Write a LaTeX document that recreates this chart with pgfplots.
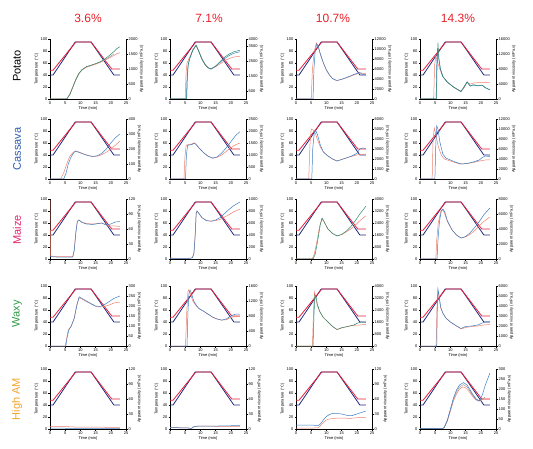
\documentclass[border=0pt]{standalone}
\usepackage{fontspec}
\setmainfont{Liberation Sans}
\usepackage{pgfplots}
\usepackage{pgfplotstable}
\pgfplotsset{compat=1.18}

\definecolor{tempblue}{HTML}{1F2A80}
\definecolor{tempred}{HTML}{E8203A}
\definecolor{vblue}{HTML}{3B7FC4}
\definecolor{vgreen}{HTML}{2E8B6E}
\definecolor{vsalmon}{HTML}{F0806E}
\definecolor{vgray}{HTML}{8C8C8C}
\definecolor{titlered}{HTML}{E8202A}
\definecolor{cassava}{HTML}{2B5BA8}
\definecolor{maize}{HTML}{E2236B}
\definecolor{waxy}{HTML}{2F9A47}
\definecolor{higham}{HTML}{F4A42C}

\newcommand{\tf}{\fontsize{4}{4.5}\selectfont}

\pgfplotsset{
  base/.style={scale only axis, width=76pt, height=60pt, anchor=south west,
    xmin=0, xmax=25, ymin=0,
    tick align=outside, major tick length=1.5pt,
    tick style={black, line width=0.3pt},
    axis line style={black, line width=0.4pt, -},
    ticklabel style={font=\tf, inner sep=1pt},
    label style={font=\tf, inner sep=1pt},
    /pgf/number format/.cd, assume math mode=true, 1000 sep={}},
  temp/.style={base, ymax=100, axis x line*=bottom, axis y line*=left,
    xtick={0,5,...,25}, ytick={0,20,...,100},
    xlabel={Time (min)}, ylabel={Temperature (°C)}},
  visc/.style={base, axis x line=none, axis y line*=right,
    scaled y ticks=false, ylabel={Apparent viscosity (mPa.s)}},
  tb/.style={color=tempblue, line width=0.8pt},
  tr/.style={color=tempred, line width=0.8pt},
  vb/.style={color=vblue, line width=0.5pt},
  vg/.style={color=vgreen, line width=0.5pt},
  vs/.style={color=vsalmon, line width=0.5pt},
  vy/.style={color=vgray, line width=0.4pt},
}

% temperature programmes, same in every panel
\pgfplotstableread{
t T
0 40
1 40
8.3 95
13.5 95
21 40
23 40
}\tblue
\pgfplotstableread{
t T
0 48
1 48
8.5 95
13.5 95
20.3 50
23 50
}\tred

\newcommand{\tpanel}[2]{%
  \begin{axis}[temp, at={(#1,#2)}]
    \addplot[tb] table {\tblue};
    \addplot[tr] table {\tred};
  \end{axis}}

% column left edges and row bottoms
\def\ca{50pt}\def\cb{170pt}\def\cc{296pt}\def\cd{420pt}
\def\ra{-99pt}\def\rb{-179pt}\def\rc{-259pt}\def\rd{-346pt}\def\re{-429pt}

\begin{document}
\begin{tikzpicture}
\useasboundingbox (0,0) rectangle (533pt,-449pt);

\node[font=\fontsize{12}{14}\selectfont, text=titlered] at (88pt,-18pt) {3.6\%};
\node[font=\fontsize{12}{14}\selectfont, text=titlered] at (209pt,-18pt) {7.1\%};
\node[font=\fontsize{12}{14}\selectfont, text=titlered] at (333pt,-18pt) {10.7\%};
\node[font=\fontsize{12}{14}\selectfont, text=titlered] at (458pt,-18pt) {14.3\%};

\node[font=\fontsize{11}{13}\selectfont, rotate=90] at (17pt,-66pt) {Potato};
\node[font=\fontsize{11}{13}\selectfont, rotate=90, text=cassava] at (17pt,-149pt) {Cassava};
\node[font=\fontsize{11}{13}\selectfont, rotate=90, text=maize] at (17pt,-230pt) {Maize};
\node[font=\fontsize{11}{13}\selectfont, rotate=90, text=waxy] at (17pt,-314pt) {Waxy};
\node[font=\fontsize{11}{13}\selectfont, rotate=90, text=higham] at (17pt,-399pt) {High AM};

%% ---------------- Potato ----------------
\tpanel{\ca}{\ra}
\begin{axis}[visc, at={(\ca,\ra)}, ymax=2000, ytick={0,500,...,2000}]
\addplot[vy] coordinates {(0,0)(5.5,0)(6.5,160)(7.5,410)(8.5,660)(9.5,860)(10.5,970)(12,1070)(13.5,1120)(15,1170)(16.5,1230)(18,1310)(19.5,1400)(21,1500)};
\addplot[vs] coordinates {(0,0)(5.5,0)(6.5,150)(7.5,400)(8.5,650)(9.5,850)(10.5,960)(12,1060)(13.5,1110)(15,1160)(16.5,1220)(18,1290)(19.5,1370)(21,1450)(22,1510)(23,1540)};
\addplot[vg] coordinates {(0,0)(5.5,0)(6.5,140)(7.5,390)(8.5,640)(9.5,840)(10.5,980)(12,1080)(13.5,1130)(15,1180)(16.5,1240)(18,1330)(19.5,1450)(21,1580)(22,1680)(23,1740)};
\end{axis}

\tpanel{\cb}{\ra}
\begin{axis}[visc, at={(\cb,\ra)}, ymax=4000, ytick={500,1500,2500,3500,4000}]
\addplot[vs] coordinates {(0,0)(5,0)(5.3,1800)(5.6,2400)(6.5,2800)(7.5,3300)(8.6,3580)(9.5,3200)(10.5,2700)(11.5,2350)(12.5,2100)(13.5,2000)(15,2150)(16.5,2350)(18,2550)(19.5,2700)(21,2800)(23,2850)};
\addplot[vb] coordinates {(0,0)(5.4,0)(5.6,1300)(5.9,2200)(6.5,2700)(7.5,3250)(8.6,3580)(9.5,3150)(10.5,2650)(11.5,2300)(12.5,2080)(13.5,2000)(15,2180)(16.5,2450)(18,2700)(19.5,2900)(21,3050)(23,3150)};
\addplot[vg] coordinates {(0,0)(5.5,0)(5.7,1400)(6,2300)(6.5,2700)(7.5,3250)(8.6,3580)(9.5,3150)(10.5,2650)(11.5,2300)(12.5,2080)(13.5,2000)(15,2200)(16.5,2500)(18,2800)(19.5,3000)(21,3150)(23,3250)};
\end{axis}

\tpanel{\cc}{\ra}
\begin{axis}[visc, at={(\cc,\ra)}, ymax=12000, ytick={0,2000,...,12000}]
\addplot[vs] coordinates {(0,0)(5,0)(5.4,6000)(6,9500)(6.7,11200)(7.3,10500)(8,9000)(9,7200)(10,5800)(11,4800)(12,4100)(13,3800)(13.5,3700)(15,3900)(17,4300)(19,4800)(21,5200)(23,5100)};
\addplot[vb] coordinates {(0,0)(5.6,0)(5.9,6000)(6.3,9500)(6.8,11000)(7.3,10600)(8,9000)(9,7200)(10,5800)(11,4800)(12,4100)(13,3800)(13.5,3700)(15,3950)(17,4400)(19,4900)(21,5300)(22,4900)(23,4800)};
\end{axis}

\tpanel{\cd}{\ra}
\begin{axis}[visc, at={(\cd,\ra)}, ymax=16000, ytick={0,4000,...,16000}]
\addplot[vs] coordinates {(0,0)(4.5,0)(4.8,9000)(5.2,11500)(5.7,10000)(6.5,8000)(7.5,6000)(9,4500)(11,3200)(13,2300)(13.5,2100)(14.5,3000)(15.5,4500)(16.5,4000)(18,4300)(20,4400)(22,4400)(23,4300)};
\addplot[vb] coordinates {(0,0)(5.3,0)(5.5,9000)(5.8,13500)(6.2,10500)(6.7,8000)(7.5,6000)(9,4500)(11,3200)(13,2200)(13.5,2000)(14.5,3300)(15.5,4600)(16.5,3500)(17.5,3700)(19,3500)(20.5,3600)(21.5,3000)(23,2500)};
\addplot[vg] coordinates {(0,0)(5.4,0)(5.6,8000)(5.9,15000)(6.2,11000)(6.7,8000)(7.5,6000)(9,4500)(11,3200)(13,2200)(13.5,2000)(14.5,3200)(15.5,4500)(16.5,3400)(17.5,3800)(19,3600)(20.5,3700)(21.5,3000)(23,2400)};
\end{axis}

%% ---------------- Cassava ----------------
\tpanel{\ca}{\rb}
\begin{axis}[visc, at={(\ca,\rb)}, ymax=400, ytick={0,100,...,400}]
\addplot[vs] coordinates {(0,0)(3.5,0)(4.5,40)(5.5,100)(6.5,150)(7.5,175)(8.3,188)(9.5,180)(11,168)(12.5,158)(14,150)(15.5,152)(17,162)(18.5,178)(20,200)(21.5,225)(23,252)};
\addplot[vb] coordinates {(0,0)(4.5,0)(5.3,40)(6,100)(7,150)(8,180)(8.5,185)(9.5,178)(11,166)(12.5,156)(14,150)(15.5,155)(17,170)(18.5,200)(20,240)(21.5,275)(23,300)};
\end{axis}

\tpanel{\cb}{\rb}
\begin{axis}[visc, at={(\cb,\rb)}, ymax=2500, ytick={0,500,...,2500}]
\addplot[vs] coordinates {(0,0)(4.6,0)(4.9,900)(5.3,1400)(6,1440)(7,1450)(7.8,1500)(8.5,1450)(9.5,1300)(11,1100)(12.5,950)(14,870)(15.5,900)(17,1000)(18.5,1150)(20,1300)(21.5,1420)(23,1500)};
\addplot[vb] coordinates {(0,0)(5.1,0)(5.4,1000)(5.8,1400)(6.5,1420)(7.5,1450)(8,1500)(8.5,1450)(9.5,1300)(11,1100)(12.5,950)(14,870)(15.5,920)(17,1080)(18.5,1300)(20,1550)(21.5,1800)(23,1970)};
\end{axis}

\tpanel{\cc}{\rb}
\begin{axis}[visc, at={(\cc,\rb)}, ymax=6000, ytick={0,1000,...,6000}]
\addplot[vs] coordinates {(0,0)(4.2,0)(4.6,3500)(5,5000)(5.6,4900)(6.3,4600)(7,4000)(8,3200)(9,2700)(10.5,2300)(12,2000)(13.5,1800)(15,1950)(16.5,2100)(18,2250)(20,2400)(21,2450)(23,2500)};
\addplot[vb] coordinates {(0,0)(5.2,0)(5.5,3000)(6,4600)(6.4,4900)(7,4500)(8,3400)(9,2700)(10.5,2300)(12,2000)(13.5,1800)(15,1950)(16.5,2100)(18,2250)(20,2550)(21,3000)(22,3100)(23,3050)};
\end{axis}

\tpanel{\cd}{\rb}
\begin{axis}[visc, at={(\cd,\rb)}, ymax=12000, ytick={0,2000,...,12000}]
\addplot[vs] coordinates {(0,0)(4,0)(4.3,8000)(4.7,10200)(5.2,9000)(6,6500)(7,4800)(8,4000)(9.5,3700)(11.5,3300)(13.5,3000)(15.5,3100)(17.5,3300)(19.5,3600)(21.5,3800)(23,3850)};
\addplot[vb] coordinates {(0,0)(4.9,0)(5.2,7000)(5.5,10600)(5.9,10000)(6.5,7500)(7.5,5000)(8.5,4200)(10,3800)(12,3300)(13.5,3000)(15.5,3100)(17.5,3400)(19.5,3800)(20.5,4300)(21.5,4600)(23,4500)};
\end{axis}

%% ---------------- Maize ----------------
\tpanel{\ca}{\rc}
\begin{axis}[visc, at={(\ca,\rc)}, ymax=120, ytick={0,30,...,120}]
\addplot[vs] coordinates {(0,118)(0.15,6)(2,5)(4,4.5)(6,4.5)(7.5,5)(8,20)(8.5,55)(9,76)(9.5,78)(10.5,74)(12,71)(14,70)(16,71)(17,72)(18.5,68)(20,66)(21.5,66)(23,65)};
\addplot[vb] coordinates {(0,5)(2,4)(4,3.5)(6,3.5)(7.5,4)(8,18)(8.5,52)(9,75)(9.5,78)(10.5,73)(12,70)(14,69)(16,71)(17,72)(18.5,68)(20,70)(21.5,74)(23,75)};
\end{axis}

\tpanel{\cb}{\rc}
\begin{axis}[visc, at={(\cb,\rc)}, ymax=1000, ytick={0,200,...,1000}]
\addplot[vs] coordinates {(0,20)(2,10)(4,8)(6,10)(7.3,20)(7.8,80)(8.2,350)(8.6,750)(8.9,800)(9.5,760)(10.5,690)(12,640)(13.5,630)(15,640)(16.5,660)(18,700)(19.5,740)(21,790)(23,830)};
\addplot[vb] coordinates {(0,10)(2,8)(4,6)(6,8)(7.4,20)(7.9,100)(8.3,400)(8.6,760)(8.9,800)(9.5,760)(10.5,690)(12,640)(13.5,630)(15,650)(16.5,690)(18,760)(19.5,830)(21,890)(23,950)};
\end{axis}

\tpanel{\cc}{\rc}
\begin{axis}[visc, at={(\cc,\rc)}, ymax=4000, ytick={0,800,...,4000}]
\addplot[vs] coordinates {(0,0)(5.3,0)(6,300)(7,1300)(7.8,2200)(8.5,2700)(9.2,2500)(10.5,2000)(12,1700)(13.5,1540)(15,1620)(16.5,1800)(18,2000)(19.5,2250)(21,2550)(23,2880)};
\addplot[vg] coordinates {(0,0)(5.6,0)(6.3,300)(7.2,1300)(8,2300)(8.6,2720)(9.2,2500)(10.5,2000)(12,1700)(13.5,1540)(15,1640)(16.5,1850)(18,2150)(19.5,2550)(21,3000)(23,3520)};
\end{axis}

\tpanel{\cd}{\rc}
\begin{axis}[visc, at={(\cd,\rc)}, ymax=8000, ytick={0,2000,...,8000}]
\addplot[vs] coordinates {(0,0)(5.2,0)(5.5,2500)(6,4800)(6.8,6300)(7.4,6600)(8,6200)(9,5000)(10.5,3900)(12,3200)(13.5,2800)(15,2950)(16.5,3300)(18,3800)(19.5,4400)(21,5000)(23,5600)};
\addplot[vb] coordinates {(0,0)(5.6,0)(5.9,2500)(6.4,5000)(7,6400)(7.6,6640)(8.2,6200)(9,5100)(10.5,3900)(12,3200)(13.5,2800)(15,3000)(16.5,3500)(18,4200)(19.5,5000)(21,5900)(23,6800)};
\end{axis}

%% ---------------- Waxy ----------------
\tpanel{\ca}{\rd}
\begin{axis}[visc, at={(\ca,\rd)}, ymax=300, ytick={0,50,...,300}]
\addplot[vs] coordinates {(0,0)(5,0)(5.5,40)(6,80)(7,100)(8,140)(8.7,200)(9.5,240)(10.5,235)(12,222)(13.5,210)(15,198)(16.5,195)(18,198)(19.5,205)(21,215)(23,220)};
\addplot[vb] coordinates {(0,0)(5.2,0)(5.6,40)(6.2,80)(7,100)(8,140)(8.8,200)(9.6,246)(10.5,238)(12,225)(13.5,212)(15,200)(16.5,198)(18,208)(19.5,222)(21,238)(23,250)};
\end{axis}

\tpanel{\cb}{\rd}
\begin{axis}[visc, at={(\cb,\rd)}, ymax=1600, ytick={0,400,...,1600}]
\addplot[vs] coordinates {(0,0)(5.1,0)(5.5,900)(5.9,1450)(6.2,1500)(6.7,1400)(7.5,1200)(8.5,1080)(9.5,1000)(11,930)(12.5,850)(14,770)(15.5,720)(17,690)(18.5,700)(20,760)(21.5,790)(23,780)};
\addplot[vb] coordinates {(0,0)(5.6,0)(5.9,900)(6.2,1380)(6.6,1490)(7,1420)(7.8,1200)(8.7,1080)(9.5,1000)(11,930)(12.5,850)(14,770)(15.5,720)(17,690)(18.5,720)(20,800)(21.5,850)(23,850)};
\end{axis}

\tpanel{\cc}{\rd}
\begin{axis}[visc, at={(\cc,\rd)}, ymax=4000, ytick={0,800,...,4000}]
\addplot[vs] coordinates {(0,0)(5.4,0)(5.8,2500)(6.1,3600)(6.5,3200)(7,2700)(7.8,2300)(9,1900)(10.5,1600)(12,1300)(13.5,1100)(15,1200)(17,1300)(19,1380)(21,1400)(23,1450)};
\addplot[vg] coordinates {(0,0)(5.6,0)(5.9,2000)(6.2,3400)(6.6,3300)(7,2800)(7.8,2300)(9,1900)(10.5,1600)(12,1300)(13.5,1100)(15,1220)(17,1300)(19,1400)(20.5,1550)(21.5,1600)(23,1580)};
\end{axis}

\tpanel{\cd}{\rd}
\begin{axis}[visc, at={(\cd,\rd)}, ymax=6000, ytick={0,1000,...,6000}]
\addplot[vs] coordinates {(0,0)(5.3,0)(5.6,4000)(5.9,5500)(6.2,5000)(6.8,3800)(7.5,3300)(8.5,2800)(10,2400)(12,2000)(13.5,1720)(15,1850)(17,1950)(19,2000)(21,2100)(23,2150)};
\addplot[vb] coordinates {(0,0)(5.5,0)(5.7,4000)(5.9,5700)(6.3,5000)(6.8,3900)(7.5,3300)(8.5,2800)(10,2400)(12,2000)(13.5,1750)(15,1950)(17,2000)(19,2100)(20.5,2300)(21.5,2400)(23,2400)};
\end{axis}

%% ---------------- High AM ----------------
\tpanel{\ca}{\re}
\begin{axis}[visc, at={(\ca,\re)}, ymax=120, ytick={0,30,...,120}]
\addplot[vs] coordinates {(0,5)(3,5.5)(8,4)(10,4)(13,4)(18,3.5)(23,3.5)};
\addplot[vb] coordinates {(0,2)(5,1.5)(10,1.5)(15,1.5)(20,1.2)(23,1.2)};
\end{axis}

\tpanel{\cb}{\re}
\begin{axis}[visc, at={(\cb,\re)}, ymax=120, ytick={0,30,...,120}]
\addplot[vs] coordinates {(0,3)(3,2.5)(6,2)(7,1)(8,5)(10,6)(13,6)(16,5)(20,5)(23,5)};
\addplot[vb] coordinates {(0,3)(3,2.5)(6,2)(7,1)(8,5)(10,6)(13,6)(16,6)(20,6.5)(23,7)};
\end{axis}

\tpanel{\cc}{\re}
\begin{axis}[visc, at={(\cc,\re)}, ymax=120, ytick={0,30,...,120}]
\addplot[vs] coordinates {(0,2)(3,2)(6,2)(7.3,2.5)(8,6)(9,13)(10,18)(11,20)(12.5,21)(14,22)(16,22)(17.5,21)(19,22)(21,23)(23,23)};
\addplot[vb] coordinates {(0,8)(3,8)(6,7.5)(7.3,7)(8,10)(9,18)(10,25)(11,29)(12,31)(13.5,31)(15,30)(17,27)(18.5,27)(20,30)(21.5,33)(23,36)};
\end{axis}

\tpanel{\cd}{\re}
\begin{axis}[visc, at={(\cd,\re)}, ymax=300, ytick={0,50,...,300}]
\addplot[vs] coordinates {(0,2)(5,2)(7.5,3)(8,8)(9,40)(10,90)(11,140)(12,175)(13,200)(14,210)(14.8,208)(16,190)(17,170)(18,150)(19,140)(20,145)(21,150)(23,150)};
\addplot[vy] coordinates {(0,2)(5,2)(7.5,3)(8,8)(9,42)(10,95)(11,148)(12,186)(13,210)(14.3,222)(15.5,210)(16.5,188)(17.5,165)(18.5,148)(19.5,140)(20.5,150)(21.5,160)};
\addplot[vb] coordinates {(0,2)(5,2)(7.5,3)(8,8)(9,45)(10,100)(11,155)(12,195)(13,220)(14.3,232)(15.5,220)(16.5,195)(17.5,170)(18.5,150)(19.5,140)(20.5,170)(21.5,220)(23,280)};
\end{axis}

\end{tikzpicture}
\end{document}
